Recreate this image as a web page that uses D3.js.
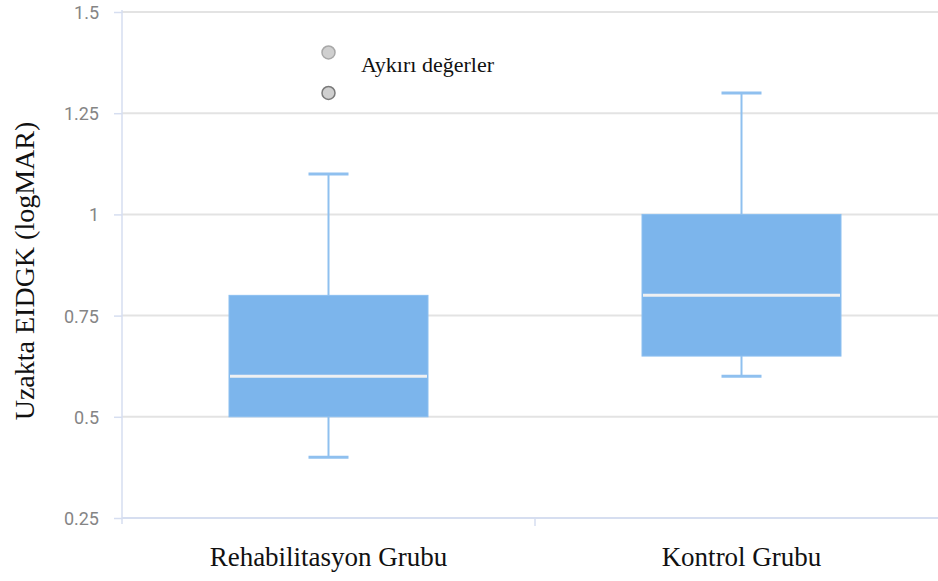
<!DOCTYPE html>
<html>
<head>
<meta charset="utf-8">
<script src="https://cdn.jsdelivr.net/npm/d3@7/dist/d3.min.js"></script>
<style>
  html, body { margin: 0; padding: 0; background: #fff; }
  svg { display: block; }
</style>
</head>
<body>
<svg id="chart" width="938" height="581"></svg>
<script>
// Box plot data (logMAR)
const categories = ["Rehabilitasyon Grubu", "Kontrol Grubu"];
const lowValues = [0.4, 0.6];
const q1Values = [0.5, 0.65];
const medianValues = [0.6, 0.8];
const q3Values = [0.8, 1.0];
const highValues = [1.1, 1.3];
const outlierGroup = ["Rehabilitasyon Grubu", "Rehabilitasyon Grubu"];
const outlierValues = [1.4, 1.3];
const yTicks = [0.25, 0.5, 0.75, 1, 1.25, 1.5];
const yTickLabels = ["0.25", "0.5", "0.75", "1", "1.25", "1.5"];
const yTitle = "Uzakta EIDGK (logMAR)";
const outlierNote = "Aykırı değerler";

const svg = d3.select("#chart");
const plotLeft = 122, plotRight = 948, plotTop = 12, plotBottom = 518;
const serif = "'Liberation Serif', 'Times New Roman', serif";

const x = d3.scaleBand().domain(categories).range([plotLeft, plotRight]).padding(0);
const y = d3.scaleLinear().domain([0.25, 1.5]).range([plotBottom, plotTop]);

// horizontal grid
svg.append("g")
  .selectAll("line")
  .data(yTicks.slice(1))
  .join("line")
  .attr("x1", plotLeft).attr("x2", 938)
  .attr("y1", d => y(d)).attr("y2", d => y(d))
  .attr("stroke", "#e3e3e3").attr("stroke-width", 2);

// y axis
const yAxis = d3.axisLeft(y).tickValues(yTicks)
  .tickFormat((d, i) => yTickLabels[i]).tickSize(8).tickPadding(15);
const gy = svg.append("g").attr("transform", `translate(${plotLeft},0)`).call(yAxis);
gy.select(".domain").attr("stroke", "#d6def0").attr("stroke-width", 1.5)
  .attr("d", `M0,${plotTop - 2}V${plotBottom + 6}`);
gy.selectAll(".tick line").attr("stroke", "#d6def0").attr("stroke-width", 1.5);
gy.selectAll(".tick text")
  .attr("fill", "#858585")
  .attr("dy", "0.36em")
  .style("font-family", "Roboto, 'Noto Sans', sans-serif")
  .style("font-size", "18px");

// x axis
const xAxis = d3.axisBottom(x).tickSize(0).tickFormat("");
const gx = svg.append("g").attr("transform", `translate(0,${plotBottom})`).call(xAxis);
gx.select(".domain").attr("stroke", "#d6def0").attr("stroke-width", 2)
  .attr("d", `M${plotLeft},0H938`);
// boundary ticks between categories
gx.append("g").selectAll("line")
  .data(categories.slice(1))
  .join("line")
  .attr("x1", d => x(d)).attr("x2", d => x(d))
  .attr("y1", 0).attr("y2", 8)
  .attr("stroke", "#d6def0").attr("stroke-width", 1.5);

// category labels
svg.append("g").selectAll("text")
  .data(categories)
  .join("text")
  .attr("x", d => x(d) + x.bandwidth() / 2)
  .attr("y", 566)
  .attr("text-anchor", "middle")
  .attr("fill", "#111")
  .style("font-family", serif)
  .style("font-size", "27px")
  .text(d => d);

// y title
svg.append("text")
  .attr("transform", "translate(34,271) rotate(-90)")
  .attr("text-anchor", "middle")
  .attr("fill", "#111")
  .style("font-family", serif)
  .style("font-size", "28px")
  .text(yTitle);

// boxes
const boxColor = "#7cb5ec";
const boxW = 199, capW = 40;
const boxes = categories.map((c, i) => ({
  c, low: lowValues[i], q1: q1Values[i], med: medianValues[i], q3: q3Values[i], high: highValues[i]
}));
const g = svg.append("g").selectAll("g").data(boxes).join("g")
  .attr("transform", d => `translate(${x(d.c) + x.bandwidth() / 2},0)`);

// whiskers
g.append("line").attr("x1", 0).attr("x2", 0)
  .attr("y1", d => y(d.high)).attr("y2", d => y(d.q3))
  .attr("stroke", "#8fc0ef").attr("stroke-width", 2);
g.append("line").attr("x1", 0).attr("x2", 0)
  .attr("y1", d => y(d.q1)).attr("y2", d => y(d.low))
  .attr("stroke", "#8fc0ef").attr("stroke-width", 2);
g.append("line").attr("x1", -capW / 2).attr("x2", capW / 2)
  .attr("y1", d => y(d.high)).attr("y2", d => y(d.high))
  .attr("stroke", "#8fc0ef").attr("stroke-width", 3);
g.append("line").attr("x1", -capW / 2).attr("x2", capW / 2)
  .attr("y1", d => y(d.low)).attr("y2", d => y(d.low))
  .attr("stroke", "#8fc0ef").attr("stroke-width", 3);

// box
g.append("rect")
  .attr("x", -boxW / 2).attr("width", boxW)
  .attr("y", d => y(d.q3)).attr("height", d => y(d.q1) - y(d.q3))
  .attr("fill", boxColor).attr("stroke", "#8cbff0").attr("stroke-width", 1);

// median
g.append("line").attr("x1", -boxW / 2 + 1).attr("x2", boxW / 2 - 1)
  .attr("y1", d => y(d.med)).attr("y2", d => y(d.med))
  .attr("stroke", "#eef0f2").attr("stroke-width", 3);

// outliers
svg.append("g").selectAll("circle")
  .data(outlierValues.map((v, i) => ({ c: outlierGroup[i], v })))
  .join("circle")
  .attr("cx", d => x(d.c) + x.bandwidth() / 2)
  .attr("cy", d => y(d.v))
  .attr("r", 6.5)
  .attr("fill", "#cfcfcf")
  .attr("stroke", (d, i) => i === 0 ? "#a8a8a8" : "#7a7a7a")
  .attr("stroke-width", 1.5);

svg.append("text")
  .attr("x", 361).attr("y", 72)
  .attr("fill", "#111")
  .style("font-family", serif)
  .style("font-size", "22px")
  .text(outlierNote);
</script>
</body>
</html>
